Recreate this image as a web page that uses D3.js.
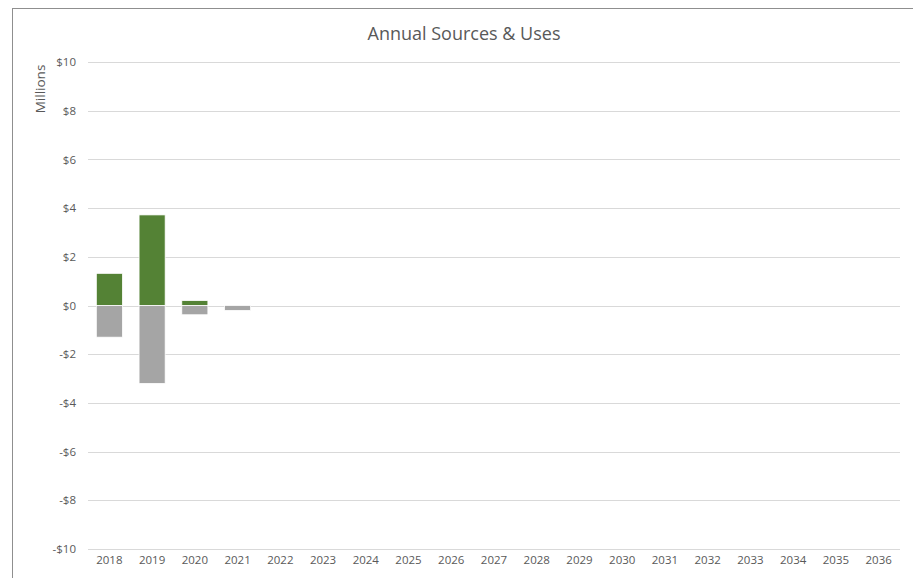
<!DOCTYPE html>
<html>
<head>
<meta charset="utf-8">
<script src="https://cdn.jsdelivr.net/npm/d3@7"></script>
<style>
  html, body { margin: 0; padding: 0; background: #fff; }
  svg { display: block; font-family: "Open Sans", "Noto Sans", sans-serif; }
</style>
</head>
<body>
<svg id="chart" width="913" height="578"></svg>
<script>
// Fiscal years on the x axis
const years = ["2018","2019","2020","2021","2022","2023","2024","2025","2026","2027",
               "2028","2029","2030","2031","2032","2033","2034","2035","2036"];
// Sources (positive) and uses (negative), in millions of dollars
const sources = [1.32, 3.72, 0.20, 0, 0, 0, 0, 0, 0, 0, 0, 0, 0, 0, 0, 0, 0, 0, 0];
const uses    = [-1.30, -3.20, -0.38, -0.20, 0, 0, 0, 0, 0, 0, 0, 0, 0, 0, 0, 0, 0, 0, 0];
// Y axis ticks
const yTicks = [-10, -8, -6, -4, -2, 0, 2, 4, 6, 8, 10];

const svg = d3.select("#chart");
const W = 913, H = 578;
const plot = { left: 88, right: 900, top: 62, bottom: 549 };

// Chart-area frame
svg.append("rect")
  .attr("x", 12.5).attr("y", 8.5)
  .attr("width", W + 20).attr("height", H + 20)
  .attr("fill", "#fff").attr("stroke", "#8f8f8f").attr("stroke-width", 1);

const x = d3.scaleBand().domain(years).range([plot.left, plot.right])
  .paddingInner(0.39).paddingOuter(0.195);
const y = d3.scaleLinear().domain([-10, 10]).range([plot.bottom, plot.top]);

const fmt = v => (v < 0 ? "-$" : "$") + Math.abs(v);

// Gridlines
svg.append("g").selectAll("line").data(yTicks).join("line")
  .attr("x1", plot.left).attr("x2", plot.right)
  .attr("y1", d => Math.round(y(d)) + 0.5).attr("y2", d => Math.round(y(d)) + 0.5)
  .attr("stroke", "#d9d9d9").attr("stroke-width", 1);

// Y axis labels
const yAxis = d3.axisLeft(y).tickValues(yTicks).tickFormat(fmt).tickSize(0).tickPadding(0);
svg.append("g").attr("transform", `translate(${plot.left - 12},0)`).call(yAxis)
  .call(g => g.select(".domain").remove())
  .call(g => g.selectAll("text").attr("fill", "#595959").attr("font-size", 11.5)
    .attr("font-family", "\"Open Sans\", sans-serif"));

// X axis labels
const xAxis = d3.axisBottom(x).tickSize(0).tickPadding(0);
svg.append("g").attr("transform", `translate(0,${plot.bottom + 7})`).call(xAxis)
  .call(g => g.select(".domain").remove())
  .call(g => g.selectAll("text").attr("fill", "#595959").attr("font-size", 11.5)
    .attr("font-family", "\"Open Sans\", sans-serif"));

// Bars: sources above zero, uses below
const bars = svg.append("g");
bars.selectAll("rect.src").data(years.map((yr, i) => ({ yr, v: sources[i] })).filter(d => d.v !== 0))
  .join("rect").attr("class", "src")
  .attr("x", d => x(d.yr)).attr("width", x.bandwidth())
  .attr("y", d => y(d.v)).attr("height", d => y(0) - y(d.v))
  .attr("fill", "#548235").attr("stroke", "#fff").attr("stroke-width", 0.75);
bars.selectAll("rect.use").data(years.map((yr, i) => ({ yr, v: uses[i] })).filter(d => d.v !== 0))
  .join("rect").attr("class", "use")
  .attr("x", d => x(d.yr)).attr("width", x.bandwidth())
  .attr("y", y(0)).attr("height", d => y(d.v) - y(0))
  .attr("fill", "#a5a5a5").attr("stroke", "#fff").attr("stroke-width", 0.75);

// Title
svg.append("text").attr("x", 464).attr("y", 40).attr("text-anchor", "middle")
  .attr("font-size", 18).attr("fill", "#595959").text("Annual Sources & Uses");

// Axis unit label
svg.append("text").attr("transform", "translate(45,89) rotate(-90)")
  .attr("text-anchor", "middle").attr("font-size", 13.5).attr("fill", "#595959")
  .text("Millions");
</script>
</body>
</html>
